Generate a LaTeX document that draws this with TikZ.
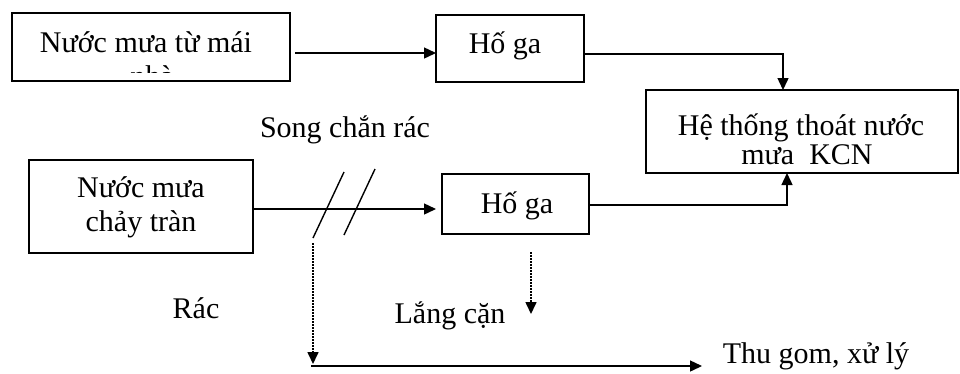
\documentclass[tikz,border=0pt]{standalone}
\usepackage{fontspec}
\setmainfont{Liberation Serif}
\usetikzlibrary{arrows.meta,calc}
\begin{document}
\begin{tikzpicture}[x=1pt,y=-1pt,
  box/.style={draw,line width=1.5pt,inner sep=0pt,outer sep=0pt},
  txt/.style={anchor=base,inner sep=0pt,font=\fontsize{30}{34}\selectfont},
  arr/.style={line width=1.4pt,-{Triangle[length=12pt,width=11pt]}},
  dotarr/.style={line width=1.6pt,dash pattern=on 1.5pt off 1.5pt,-{Triangle[length=12pt,width=11pt]}},
  plain/.style={line width=1.4pt}]
\useasboundingbox (0,0) rectangle (960,373);

% boxes
\node[box,minimum width=278pt,minimum height=68pt] (roof) at (151,47) {};
\node[box,minimum width=148pt,minimum height=67pt] (pit1) at (510,48.5) {};
\node[box,minimum width=312pt,minimum height=83pt] (kcn) at (802,131.5) {};
\node[box,minimum width=224pt,minimum height=93pt] (runoff) at (141,206.5) {};
\node[box,minimum width=147pt,minimum height=60pt] (pit2) at (515.5,204) {};

% box texts; the second line of the roof box is cut off by the text area
\node[txt] (roofA) at (146,52) {Nước mưa từ mái};
\begin{scope}
  \clip ([xshift=1pt,yshift=-1pt]roof.north west) rectangle ([xshift=-1pt]roof.east |- 0,72);
  \node[txt] (roofB) at (152,86) {nhà};
\end{scope}
\node[txt] (pit1t) at (505,53) {Hố ga};
\node[txt] (kcnA) at (801,135) {Hệ thống thoát nước};
\node[txt] (kcnB) at (807,164) {mưa\ \ KCN};
\node[txt] (runA) at (141,197) {Nước mưa};
\node[txt] (runB) at (141,231) {chảy tràn};
\node[txt] (pit2t) at (517,213) {Hố ga};

% free labels
\node[txt] (screen) at (345,137) {Song chắn rác};
\node[txt] (trash) at (196,318) {Rác};
\node[txt] (sludge) at (450,323) {Lắng cặn};
\node[txt] (collect) at (816,363) {Thu gom, xử lý};

% main flows
\draw[arr] ([xshift=5pt,yshift=-6pt]roof.east) -- ([yshift=-6pt]roof.east -| pit1.west);
\draw[arr] ([yshift=-5.5pt]pit1.east) -| ([xshift=-19pt]kcn.north);
\draw[arr] ([yshift=-2.5pt]runoff.east) -- ([yshift=-2.5pt,xshift=-6pt]runoff.east -| pit2.west);
\draw[arr] ([yshift=-1pt]pit2.east) -| ([xshift=-15pt]kcn.south);

% bar screen
\coordinate (s1a) at (313,238);
\coordinate (s1b) at (344,172);
\coordinate (s2a) at (344,235);
\coordinate (s2b) at (375,169);
\draw[plain] (s1a) -- (s1b);
\draw[plain] (s2a) -- (s2b);

% trash and sludge paths
\coordinate (dropTop) at (313,243);
\coordinate (dropEnd) at (313,364);
\coordinate (lineStart) at (311,366);
\coordinate (lineEnd) at (702,366);
\draw[dotarr] (dropTop) -- (dropEnd);
\draw[arr] (lineStart) -- (lineEnd);
\coordinate (sludgeTop) at (531,252);
\coordinate (sludgeEnd) at (531,314);
\draw[dotarr] (sludgeTop) -- (sludgeEnd);
\end{tikzpicture}
\end{document}
